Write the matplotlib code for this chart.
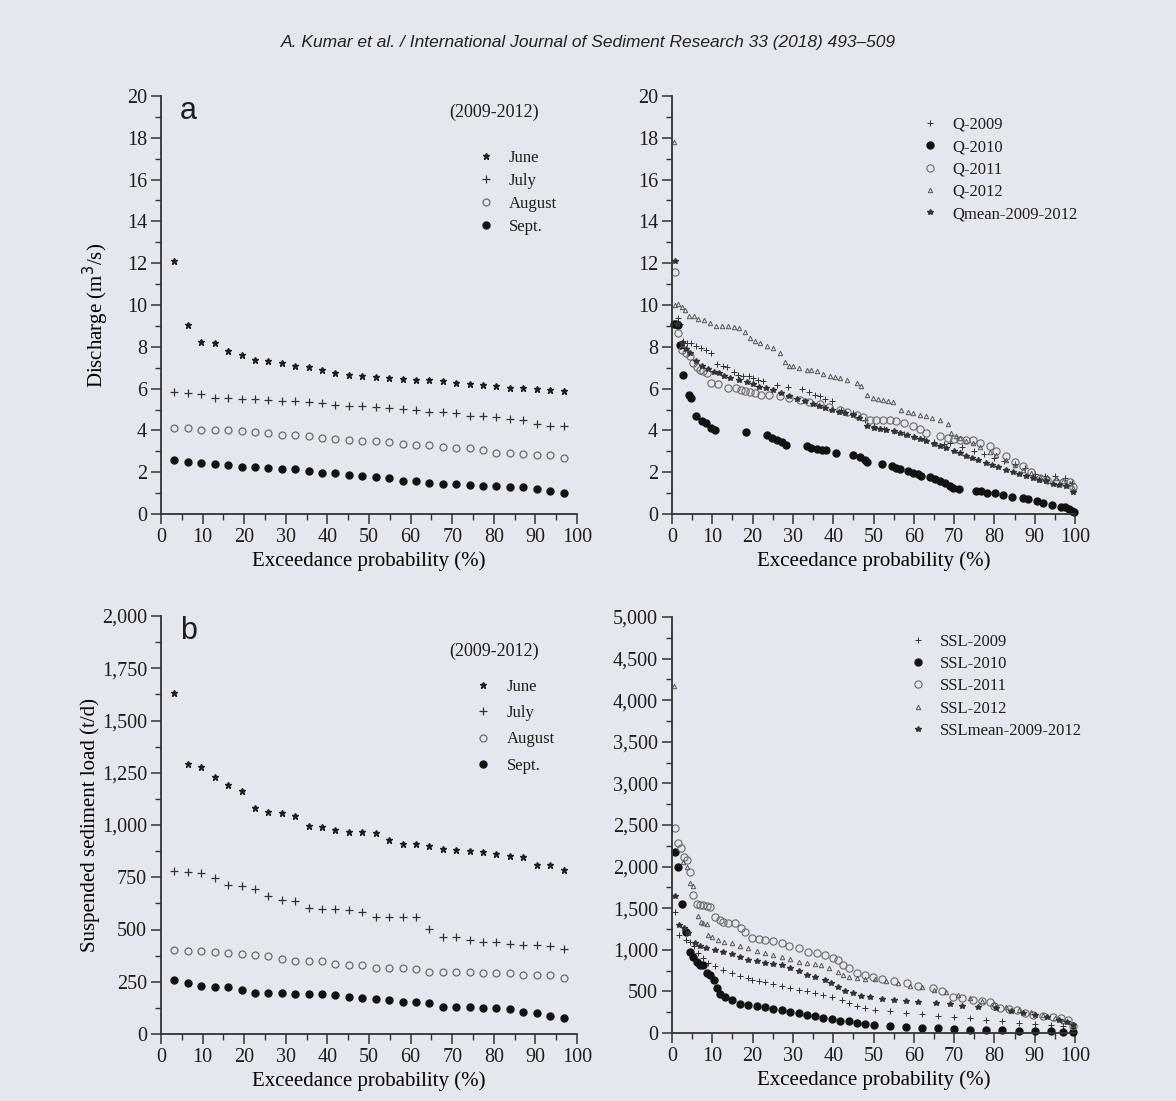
"""
Flow and sediment duration curves (Kumar et al. 2018, Fig. a/b).
"""
import matplotlib
matplotlib.use("Agg")
import matplotlib.pyplot as plt
from matplotlib.ticker import MultipleLocator, FuncFormatter

# ---- data ----------------------------------------------------------------
# left panels: 30 ranked values per month, plotted at rank/(n+1)
prob_month = [3.2, 6.5, 9.7, 12.9, 16.1, 19.4, 22.6, 25.8, 29.0, 32.3,
              35.5, 38.7, 41.9, 45.2, 48.4, 51.6, 54.8, 58.1, 61.3, 64.5,
              67.7, 71.0, 74.2, 77.4, 80.6, 83.9, 87.1, 90.3, 93.5, 96.8]

q_june = [12.11, 9.04, 8.22, 8.19, 7.79, 7.63, 7.36, 7.34, 7.23, 7.10,
          7.04, 6.88, 6.75, 6.64, 6.59, 6.54, 6.51, 6.46, 6.43, 6.40,
          6.35, 6.27, 6.22, 6.19, 6.14, 6.03, 6.02, 5.97, 5.94, 5.90]
q_july = [5.82, 5.79, 5.74, 5.55, 5.55, 5.52, 5.50, 5.44, 5.42, 5.39,
          5.34, 5.31, 5.23, 5.18, 5.15, 5.12, 5.07, 5.02, 4.99, 4.88,
          4.86, 4.83, 4.70, 4.70, 4.64, 4.54, 4.48, 4.32, 4.22, 4.19]
q_aug = [4.11, 4.11, 4.03, 4.03, 4.00, 3.95, 3.92, 3.87, 3.79, 3.76,
         3.74, 3.66, 3.60, 3.55, 3.50, 3.47, 3.44, 3.34, 3.31, 3.28,
         3.20, 3.18, 3.15, 3.04, 2.94, 2.91, 2.86, 2.83, 2.80, 2.70]
q_sept = [2.59, 2.51, 2.46, 2.38, 2.35, 2.27, 2.24, 2.19, 2.14, 2.14,
          2.06, 1.98, 1.95, 1.87, 1.82, 1.79, 1.74, 1.58, 1.58, 1.50,
          1.44, 1.42, 1.39, 1.36, 1.36, 1.31, 1.28, 1.18, 1.12, 1.02]

ssl_june = [1633, 1292, 1278, 1228, 1193, 1161, 1081, 1061, 1058, 1045,
            994, 990, 978, 965, 965, 962, 927, 911, 909, 901,
            887, 882, 877, 871, 863, 853, 847, 810, 807, 786]
ssl_july = [781, 773, 770, 746, 711, 709, 693, 661, 639, 637,
            605, 597, 597, 591, 583, 558, 558, 558, 558, 503,
            463, 462, 450, 439, 438, 431, 426, 426, 422, 406]
ssl_aug = [403, 395, 395, 391, 387, 383, 379, 375, 358, 350,
           347, 347, 335, 331, 331, 315, 315, 315, 310, 299,
           296, 296, 296, 294, 294, 294, 283, 280, 280, 267]
ssl_sept = [256, 246, 230, 227, 224, 211, 198, 195, 195, 192,
            192, 192, 187, 176, 171, 168, 163, 155, 155, 150,
            131, 131, 128, 126, 123, 120, 107, 102, 88, 78]

# right top: yearly discharge duration curves
q2009_x = [1.6, 2.0, 2.7, 3.7, 4.8, 6.0, 7.3, 8.5, 9.8, 11.2, 12.7, 13.6, 15.3,
           16.5, 17.7, 19.0, 20.2, 21.4, 22.7, 26.0, 28.7, 32.2, 33.9, 35.5,
           36.7, 38.0, 39.6, 42.0, 45.0, 48.0, 50.0, 52.5, 55.0, 57.5, 60.0,
           62.5, 65.0, 67.5, 69.0, 72.0, 75.0, 77.5, 80.0, 82.5, 85.0, 87.5,
           90.0, 92.5, 95.0, 97.5, 99.3]
q2009_y = [9.38, 9.1, 8.26, 8.2, 8.18, 8.06, 7.95, 7.83, 7.71, 7.2, 7.1, 7.04,
           6.78, 6.67, 6.62, 6.58, 6.51, 6.42, 6.34, 6.19, 6.06, 5.99, 5.82,
           5.71, 5.63, 5.5, 5.39, 5.0, 4.85, 4.5, 4.2, 4.08, 3.95, 3.85, 3.7,
           3.58, 3.45, 3.35, 3.39, 3.2, 3.0, 2.85, 2.7, 2.55, 2.4, 2.2, 1.9,
           1.82, 1.8, 1.7, 1.5]

q2010_x = [0.5, 1.0, 1.5, 2.0, 2.8, 4.2, 4.7, 6.0, 7.4, 8.5, 9.8, 10.7, 18.4,
           23.5, 24.7, 26.0, 27.2, 28.4, 33.4, 34.6, 35.9, 37.1, 38.3, 40.8,
           45.0, 46.6, 47.9, 48.5, 52.0, 54.5, 55.7, 56.6, 58.6, 59.9, 61.1,
           61.9, 64.0, 65.3, 66.5, 67.7, 69.0, 69.8, 71.3, 75.5, 76.6, 78.1,
           80.2, 82.2, 84.3, 87.2, 88.4, 90.5, 92.1, 94.2, 96.5, 97.5, 98.6,
           99.3, 99.7]
q2010_y = [9.1, 9.1, 9.05, 8.1, 6.65, 5.7, 5.55, 4.7, 4.45, 4.35, 4.1, 4.0,
           3.92, 3.76, 3.63, 3.55, 3.44, 3.32, 3.26, 3.18, 3.12, 3.07, 3.04,
           2.91, 2.83, 2.72, 2.6, 2.49, 2.4, 2.3, 2.2, 2.13, 2.08, 1.98, 1.92,
           1.83, 1.76, 1.68, 1.57, 1.46, 1.33, 1.25, 1.2, 1.1, 1.08, 1.02,
           0.99, 0.91, 0.83, 0.75, 0.72, 0.64, 0.55, 0.43, 0.35, 0.33, 0.25,
           0.15, 0.08]

q2011_x = [0.8, 1.6, 2.4, 3.5, 4.4, 5.3, 6.1, 6.9, 7.7, 8.6, 9.8, 11.4, 13.9,
           16.0, 17.0, 18.1, 19.3, 20.6, 22.2, 24.0, 26.8, 29.0, 31.8, 34.0,
           36.7, 39.0, 41.6, 43.5, 45.8, 47.5, 49.1, 50.5, 52.4, 54.0, 55.7,
           57.5, 59.8, 61.5, 63.1, 66.4, 68.5, 70.0, 71.4, 73.0, 74.7, 76.5,
           78.8, 80.5, 82.9, 85.0, 87.1, 89.0, 91.2, 93.0, 95.4, 97.0, 98.7,
           99.5]
q2011_y = [11.57, 8.66, 7.87, 7.7, 7.55, 7.24, 7.05, 6.91, 6.85, 6.75, 6.27,
           6.24, 6.03, 6.03, 5.95, 5.87, 5.85, 5.79, 5.71, 5.68, 5.63, 5.55,
           5.47, 5.35, 5.24, 5.1, 5.0, 4.9, 4.76, 4.65, 4.52, 4.52, 4.52, 4.48,
           4.44, 4.35, 4.2, 4.05, 3.88, 3.72, 3.65, 3.6, 3.56, 3.56, 3.56, 3.4,
           3.24, 3.0, 2.76, 2.5, 2.28, 2.0, 1.71, 1.62, 1.55, 1.55, 1.55, 1.31]

q2012_x = [0.6, 0.8, 1.6, 2.5, 3.3, 4.3, 5.5, 6.5, 8.0, 9.5, 10.9, 12.5, 13.9,
           15.3, 16.7, 18.0, 19.3, 20.5, 21.8, 23.5, 25.1, 26.7, 28.0, 29.0,
           30.0, 31.5, 33.4, 34.5, 35.9, 37.5, 39.2, 40.5, 41.6, 43.5, 45.8,
           47.0, 48.3, 49.9, 51.0, 52.4, 53.5, 54.9, 56.9, 58.5, 59.8, 61.5,
           63.1, 64.5, 66.4, 68.5, 69.3, 70.5, 71.4, 73.0, 74.7, 76.5, 78.8,
           80.5, 82.9, 85.0, 87.1, 89.0, 91.2, 93.0, 95.4, 97.0, 98.7, 99.5]
q2012_y = [17.8, 10.0, 10.05, 9.9, 9.75, 9.46, 9.45, 9.35, 9.3, 9.15, 8.99,
           9.0, 9.0, 8.95, 8.9, 8.7, 8.4, 8.3, 8.17, 8.05, 7.93, 7.7, 7.26,
           7.1, 7.06, 7.0, 6.9, 6.88, 6.82, 6.7, 6.62, 6.55, 6.5, 6.4, 6.27,
           6.14, 5.7, 5.54, 5.5, 5.46, 5.42, 5.34, 4.99, 4.9, 4.83, 4.75, 4.67,
           4.6, 4.5, 4.3, 3.86, 3.75, 3.62, 3.5, 3.38, 3.2, 2.99, 2.8, 2.59,
           2.35, 2.11, 1.95, 1.79, 1.75, 1.71, 1.6, 1.47, 1.23]

qmean_x = [0.8, 1.2, 2.5, 3.5, 4.4, 5.9, 7.5, 9.0, 10.5, 11.7, 13.0, 14.5,
           16.7, 18.5, 20.0, 21.5, 23.3, 25.0, 27.0, 29.1, 31.0, 33.0, 34.9,
           36.5, 38.0, 39.8, 41.5, 43.0, 44.9, 46.5, 48.3, 50.0, 51.5, 53.2,
           55.0, 56.5, 58.2, 60.0, 61.5, 63.1, 65.0, 66.5, 68.1, 70.0, 71.5,
           73.0, 74.5, 76.0, 78.0, 79.5, 81.0, 82.9, 84.5, 86.0, 87.9, 89.5,
           91.0, 92.8, 94.5, 96.0, 97.8, 99.5]
qmean_y = [12.1, 9.1, 8.2, 7.9, 7.71, 7.31, 7.1, 6.95, 6.8, 6.75, 6.6, 6.5,
           6.43, 6.3, 6.2, 6.1, 6.03, 5.95, 5.8, 5.63, 5.5, 5.4, 5.24, 5.15,
           5.05, 5.0, 4.9, 4.85, 4.76, 4.6, 4.2, 4.12, 4.08, 4.04, 3.95, 3.88,
           3.8, 3.7, 3.6, 3.48, 3.35, 3.25, 3.16, 3.0, 2.9, 2.76, 2.7, 2.6,
           2.44, 2.35, 2.25, 2.12, 2.0, 1.9, 1.81, 1.7, 1.62, 1.57, 1.45, 1.4,
           1.33, 1.04]

# right bottom: yearly suspended sediment load duration curves
s2009_x = [0.7, 1.8, 3.4, 4.5, 5.5, 6.5, 7.8, 9.0, 10.7, 12.7, 14.8, 16.8,
           18.9, 19.8, 21.5, 23.1, 25.0, 27.2, 29.3, 31.4, 33.5, 35.6, 37.5,
           39.7, 42.1, 44.0, 46.0, 48.0, 50.4, 54.0, 58.0, 62.0, 66.0, 70.0,
           74.0, 78.0, 82.0, 86.0, 90.0, 94.0, 97.0, 99.5]
s2009_y = [1458, 1178, 1118, 1097, 1040, 957, 900, 837, 800, 757, 717, 690,
           660, 637, 625, 617, 590, 570, 545, 517, 500, 477, 455, 430, 397,
           360, 330, 300, 276, 260, 240, 225, 210, 195, 176, 160, 140, 125,
           110, 95, 80, 60]

s2010_x = [0.7, 1.5, 2.4, 3.4, 4.5, 5.3, 6.1, 6.9, 7.8, 8.6, 9.4, 10.3, 11.1,
           11.9, 13.2, 14.8, 16.9, 18.9, 21.0, 23.1, 25.1, 27.2, 29.3, 31.4,
           33.4, 35.6, 37.5, 39.7, 41.6, 43.8, 46.0, 48.0, 50.0, 54.0, 58.0,
           62.0, 66.0, 70.0, 74.0, 78.0, 82.0, 86.0, 90.0, 94.0, 97.0, 99.5]
s2010_y = [2170, 1990, 1545, 1218, 978, 917, 857, 817, 817, 717, 697, 637,
           540, 470, 435, 397, 350, 335, 325, 315, 285, 275, 255, 235, 220,
           210, 185, 170, 150, 140, 125, 110, 95, 80, 70, 62, 55, 48, 42, 38,
           34, 30, 26, 22, 18, 12]

s2011_x = [0.7, 1.5, 2.2, 2.9, 3.6, 4.5, 5.3, 6.1, 7.0, 7.8, 8.6, 9.4, 10.7,
           11.8, 12.7, 14.0, 15.6, 17.0, 18.1, 19.8, 21.5, 23.1, 25.0, 27.2,
           29.0, 31.4, 33.8, 36.0, 38.0, 40.0, 41.3, 42.5, 43.8, 46.0, 47.9,
           49.9, 52.0, 55.0, 58.2, 61.0, 64.8, 67.0, 69.8, 72.0, 74.8, 77.0,
           78.9, 80.0, 81.4, 83.5, 85.5, 87.5, 89.7, 92.0, 94.6, 96.5, 98.3,
           99.6]
s2011_y = [2460, 2280, 2220, 2120, 2080, 1940, 1660, 1550, 1540, 1540, 1530,
           1520, 1400, 1360, 1340, 1320, 1320, 1260, 1218, 1138, 1125, 1117,
           1100, 1077, 1050, 1017, 977, 960, 937, 900, 877, 820, 776, 720, 696,
           670, 645, 620, 597, 570, 537, 500, 437, 420, 397, 385, 377, 330, 297,
           285, 277, 245, 216, 205, 196, 180, 156, 80]

s2012_x = [0.6, 2.8, 3.6, 4.5, 5.3, 6.5, 7.2, 7.8, 8.6, 9.0, 10.0, 11.5,
           13.0, 14.8, 16.8, 18.9, 21.0, 23.1, 25.0, 27.2, 29.3, 31.4, 33.5,
           35.5, 37.0, 39.0, 41.3, 42.5, 43.8, 46.0, 48.0, 50.4, 53.0, 56.0,
           59.0, 62.0, 65.0, 68.0, 71.0, 74.0, 77.0, 80.0, 83.0, 86.0, 89.0,
           92.0, 95.0, 97.0, 99.5]
s2012_y = [4170, 2060, 2000, 1800, 1766, 1406, 1330, 1318, 1310, 1178, 1150,
           1118, 1095, 1077, 1045, 1017, 985, 957, 935, 917, 885, 857, 840,
           825, 817, 780, 737, 700, 677, 660, 650, 645, 620, 595, 570, 550,
           520, 490, 455, 420, 385, 350, 310, 280, 250, 215, 185, 150, 110]

smean_x = [0.7, 1.8, 3.0, 4.0, 5.7, 7.0, 8.5, 10.7, 12.7, 14.8, 16.8, 18.9,
           21.0, 23.1, 25.0, 27.2, 29.3, 31.4, 33.5, 35.6, 38.0, 39.5, 41.3,
           43.0, 45.0, 47.0, 49.1, 52.0, 55.0, 58.0, 61.0, 65.6, 69.0, 72.0,
           76.0, 80.5, 84.0, 87.0, 90.0, 93.0, 96.0, 98.0, 99.5]
smean_y = [1647, 1298, 1260, 1200, 1078, 1050, 1020, 998, 970, 945, 910, 877,
           860, 845, 830, 817, 780, 740, 700, 670, 637, 600, 557, 510, 475,
           450, 430, 410, 395, 380, 370, 357, 345, 330, 315, 296, 270, 245,
           220, 190, 160, 130, 100]

BG = '#e4e8ee'
INK = '#1e1e1e'
SERIF = ['Liberation Serif', 'DejaVu Serif']

plt.rcParams['font.family'] = SERIF
plt.rcParams['text.color'] = INK
plt.rcParams['axes.edgecolor'] = '#333333'

W, H = 1176, 1101
fig = plt.figure(figsize=(W / 100, H / 100), dpi=100, facecolor=BG)


def px_axes(x0, x1, ytop, ybot):
    """Add axes from pixel box (origin top-left)."""
    return fig.add_axes([x0 / W, 1 - ybot / H, (x1 - x0) / W, (ybot - ytop) / H])


def style(ax, ymax, ymajor, yminor, comma=False):
    ax.set_facecolor('none')
    ax.set_xlim(0, 100)
    ax.set_ylim(0, ymax)
    for side in ('top', 'right'):
        ax.spines[side].set_visible(False)
    for side in ('left', 'bottom'):
        ax.spines[side].set_linewidth(1.3)
    ax.xaxis.set_major_locator(MultipleLocator(10))
    ax.xaxis.set_minor_locator(MultipleLocator(5))
    ax.yaxis.set_major_locator(MultipleLocator(ymajor))
    ax.yaxis.set_minor_locator(MultipleLocator(yminor))
    ax.tick_params(which='major', direction='out', length=7, width=1.1,
                   labelsize=14.5, pad=3, colors='#333333', labelcolor=INK)
    ax.tick_params(which='minor', direction='out', length=4, width=1.0,
                   colors='#333333')
    if comma:
        ax.yaxis.set_major_formatter(FuncFormatter(lambda v, p: f'{v:,.0f}'))
    ax.set_xlabel('Exceedance probability (%)', fontsize=15, labelpad=3)


def monthly(ax, june, july, aug, sept):
    ax.plot(prob_month, june, ls='none', marker='*', ms=4.5, color=INK,
            label='June', clip_on=False)
    ax.plot(prob_month, july, ls='none', marker='+', ms=6, mew=0.9,
            color='#333333', label='July', clip_on=False)
    ax.plot(prob_month, aug, ls='none', marker='o', ms=5, mfc='none',
            mec='#6a6a6a', mew=0.9, label='August', clip_on=False)
    ax.plot(prob_month, sept, ls='none', marker='o', ms=5, color='#111111',
            label='Sept.', clip_on=False)


def yearly(ax, series, labels):
    styles = [dict(marker='+', ms=5, mew=0.7, color='#333333'),
              dict(marker='o', ms=5, color='#111111'),
              dict(marker='o', ms=5.2, mfc='none', mec='#6a6a6a', mew=0.8),
              dict(marker='^', ms=3.2, mfc='none', mec='#555555', mew=0.7),
              dict(marker='*', ms=4, color='#333333')]
    for (xs, ys), lab, kw in zip(series, labels, styles):
        ax.plot(xs, ys, ls='none', label=lab, clip_on=False, **kw)


# ---- panel a (monthly discharge) -----------------------------------------
ax_a = px_axes(161, 577, 96, 514)
style(ax_a, 20, 2, 1)
monthly(ax_a, q_june, q_july, q_aug, q_sept)
ax_a.set_ylabel('Discharge (m$^3$/s)', fontsize=15)
ax_a.yaxis.set_label_coords(-0.12, 0.475)
ax_a.text(0.045, 1.0, 'a', transform=ax_a.transAxes, fontsize=22,
          family=['Liberation Sans', 'DejaVu Sans'], va='top', ha='left')
ax_a.text(0.8, 0.96, '(2009-2012)', transform=ax_a.transAxes, fontsize=13,
          ha='center', va='center')
ax_a.legend(loc='upper left', bbox_to_anchor=(0.74, 0.89), frameon=False,
            fontsize=12, handlelength=1.0, handletextpad=0.9,
            labelspacing=0.42, borderpad=0)

# ---- panel a right (yearly discharge) ------------------------------------
ax_q = px_axes(672, 1075, 96, 514)
style(ax_q, 20, 2, 1)
yearly(ax_q, [(q2009_x, q2009_y), (q2010_x, q2010_y), (q2011_x, q2011_y),
              (q2012_x, q2012_y), (qmean_x, qmean_y)],
       ['Q-2009', 'Q-2010', 'Q-2011', 'Q-2012', 'Qmean-2009-2012'])
ax_q.legend(loc='upper left', bbox_to_anchor=(0.6, 0.97), frameon=False,
            fontsize=12, handlelength=1.0, handletextpad=0.8,
            labelspacing=0.38, borderpad=0)

# ---- panel b (monthly sediment load) -------------------------------------
ax_b = px_axes(161, 577, 616, 1034)
style(ax_b, 2000, 250, 125, comma=True)
monthly(ax_b, ssl_june, ssl_july, ssl_aug, ssl_sept)
ax_b.set_ylabel('Suspended sediment load (t/d)', fontsize=15)
ax_b.yaxis.set_label_coords(-0.147, 0.5)
ax_b.text(0.045, 1.0, 'b', transform=ax_b.transAxes, fontsize=22,
          family=['Liberation Sans', 'DejaVu Sans'], va='top', ha='left')
ax_b.text(0.8, 0.915, '(2009-2012)', transform=ax_b.transAxes, fontsize=13,
          ha='center', va='center')
ax_b.legend(loc='upper left', bbox_to_anchor=(0.735, 0.87), frameon=False,
            fontsize=12, handlelength=1.0, handletextpad=0.9,
            labelspacing=0.62, borderpad=0)

# ---- panel b right (yearly sediment load) --------------------------------
ax_s = px_axes(672, 1075, 617, 1033)
style(ax_s, 5000, 500, 250, comma=True)
yearly(ax_s, [(s2009_x, s2009_y), (s2010_x, s2010_y), (s2011_x, s2011_y),
              (s2012_x, s2012_y), (smean_x, smean_y)],
       ['SSL-2009', 'SSL-2010', 'SSL-2011', 'SSL-2012', 'SSLmean-2009-2012'])
ax_s.legend(loc='upper left', bbox_to_anchor=(0.57, 0.98), frameon=False,
            fontsize=12, handlelength=1.0, handletextpad=0.8,
            labelspacing=0.38, borderpad=0)

# page header
fig.text(588 / W, 1 - 42 / H,
         'A. Kumar et al. / International Journal of Sediment Research 33 (2018) 493\u2013509',
         ha='center', va='center', fontsize=12.5, style='italic',
         family=['Liberation Sans', 'DejaVu Sans'], color='#222222')

fig.savefig('out.png', dpi=100, facecolor=BG)
